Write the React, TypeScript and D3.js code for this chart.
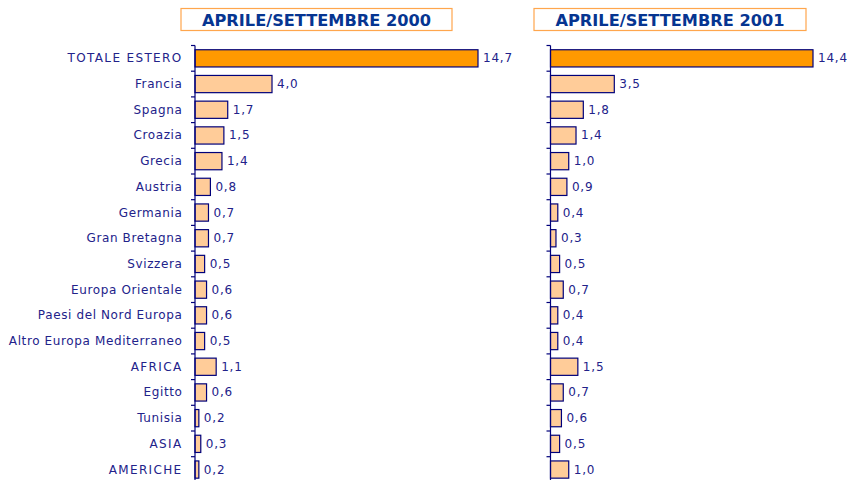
import React from "react";
import * as d3 from "d3";

const categories = [
  "TOTALE ESTERO",
  "Francia",
  "Spagna",
  "Croazia",
  "Grecia",
  "Austria",
  "Germania",
  "Gran Bretagna",
  "Svizzera",
  "Europa Orientale",
  "Paesi del Nord Europa",
  "Altro Europa Mediterraneo",
  "AFRICA",
  "Egitto",
  "Tunisia",
  "ASIA",
  "AMERICHE",
];

const values2000 = [14.7, 4.0, 1.7, 1.5, 1.4, 0.8, 0.7, 0.7, 0.5, 0.6, 0.6, 0.5, 1.1, 0.6, 0.2, 0.3, 0.2];
const values2001 = [14.4, 3.5, 1.8, 1.4, 1.0, 0.9, 0.4, 0.3, 0.5, 0.7, 0.4, 0.4, 1.5, 0.7, 0.6, 0.5, 1.0];

const titles = ["APRILE/SETTEMBRE 2000", "APRILE/SETTEMBRE 2001"];

const W = 847;
const H = 480;
const NAVY = "#22228a";
const AXIS = "#00007a";
const TITLE_COLOR = "#063591";
const FONT = "'DejaVu Sans', Verdana, sans-serif";

const bandTop = 45.5;
const step = 25.7;

const y = d3
  .scaleBand<string>()
  .domain(categories)
  .range([bandTop, bandTop + step * categories.length])
  .paddingInner(0.33)
  .paddingOuter(0.165);

type PanelProps = {
  values: number[];
  x0: number;
  x1: number;
  title: string;
  boxX: number;
  boxW: number;
  showLabels: boolean;
};

function Panel({ values, x0, x1, title, boxX, boxW, showLabels }: PanelProps) {
  const max = d3.max(values) as number;
  const x = d3.scaleLinear().domain([0, max]).range([x0, x1]);
  const boundaries = d3.range(categories.length + 1).map((i) => bandTop + i * step);
  const fmt = (v: number) => d3.format(".1f")(v).replace(".", ",");
  return (
    <g>
      <rect x={boxX} y={8.5} width={boxW} height={22} fill="#fff" stroke="#ffa64d" strokeWidth={1.2} />
      <text
        x={boxX + boxW / 2}
        y={25.5}
        textAnchor="middle"
        fontFamily={FONT}
        fontWeight="bold"
        fontSize={16.2}
        fill={TITLE_COLOR}
      >
        {title}
      </text>
      {categories.map((c, i) => (
        <g key={c}>
          <rect
            x={x(0)}
            y={y(c)}
            width={x(values[i]) - x(0)}
            height={y.bandwidth()}
            fill={i === 0 ? "#ff9900" : "#ffcc99"}
            stroke={AXIS}
            strokeWidth={1.2}
          />
          <text
            x={x(values[i]) + 5}
            y={(y(c) as number) + y.bandwidth() / 2}
            dominantBaseline="central"
            fontFamily={FONT}
            fontSize={12}
            letterSpacing={0.8}
            fill={NAVY}
          >
            {fmt(values[i])}
          </text>
          {showLabels && (
            <text
              x={182.5}
              y={(y(c) as number) + y.bandwidth() / 2}
              dominantBaseline="central"
              textAnchor="end"
              fontFamily={FONT}
              fontSize={12}
              letterSpacing={c === c.toUpperCase() ? 1.35 : 0.62}
              fill={NAVY}
            >
              {c}
            </text>
          )}
        </g>
      ))}
      <line x1={x0} x2={x0} y1={boundaries[0]} y2={boundaries[boundaries.length - 1]} stroke={AXIS} strokeWidth={1.2} />
      {boundaries.map((b, i) => (
        <line key={i} x1={x0 - 4} x2={x0} y1={b} y2={b} stroke={AXIS} strokeWidth={1.2} />
      ))}
    </g>
  );
}

export default function App() {
  return (
    <svg
      width={W}
      height={H}
      style={{ position: "absolute", left: 0, top: 0, background: "#fff", display: "block" }}
    >
      <rect width={W} height={H} fill="#fff" />
      <Panel values={values2000} x0={195} x1={478} title={titles[0]} boxX={181} boxW={271} showLabels={true} />
      <Panel values={values2001} x0={550.5} x1={813} title={titles[1]} boxX={534} boxW={272} showLabels={false} />
    </svg>
  );
}
